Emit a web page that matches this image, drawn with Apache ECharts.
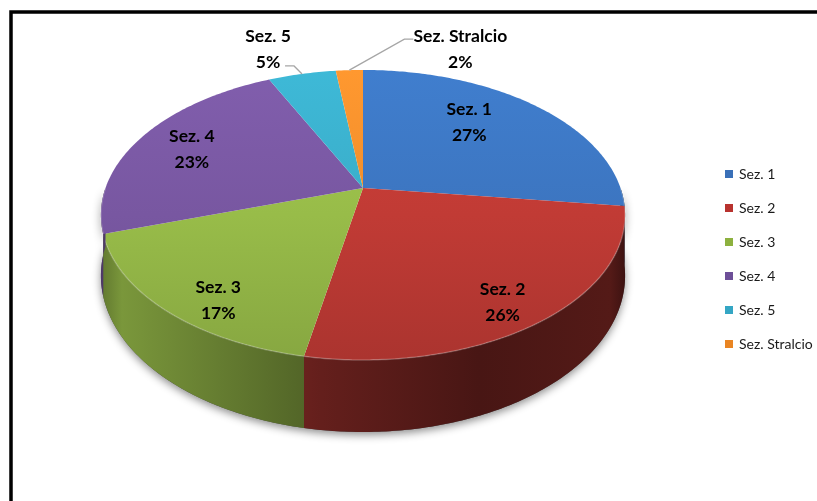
<!DOCTYPE html>
<html>
<head>
<meta charset="utf-8">
<script src="https://cdn.jsdelivr.net/npm/echarts@6/dist/echarts.min.js"></script>
<style>
  html, body { margin: 0; padding: 0; background: #ffffff; }
  #chart { width: 817px; height: 501px; }
</style>
</head>
<body>
<div id="chart"></div>
<script>
// Sections and their shares (percent)
const sections = ['Sez. 1', 'Sez. 2', 'Sez. 3', 'Sez. 4', 'Sez. 5', 'Sez. Stralcio'];
const shares = [27, 26, 17, 23, 5, 2];
const sectionColors = ['#3e79c6', '#c73d37', '#9dc24b', '#7c5aa6', '#3cb2cf', '#f7922d'];
const legendColors = ['#3a70b8', '#b8322e', '#8db13f', '#6d4f98', '#34a6c4', '#e98523'];

// Label placement: inside labels use [reach, lift]; outside labels use a text offset from the rim
const insideLabelLayout = [[0.59, -15], [0.81, 10], [0.76, 23], [0.765, 2]];
const outsideLabelLayout = { 4: { dx: -34, dy: -25, side: 'left' }, 5: { dx: 111, dy: -21, side: 'right' } };

const FONT = "Lato, 'Open Sans', sans-serif";

// Perspective disc: theta in degrees clockwise from the back of the pie
const geo = { cx: 363, cy: 188, R: 257.5, S: 140, k: 0.186, h: 58.6, xL: 101, xR: 626, yT: 70, yB: 360 };

function proj(theta, r, lower) {
  const a = theta * Math.PI / 180;
  const X = r * Math.sin(a), Z = -r * Math.cos(a);
  const w = 1 - geo.k * Z;
  return [geo.cx + geo.R * X / w, geo.cy + (geo.S * Z + (lower ? geo.h : 0)) / w];
}

const total = shares.reduce((s, v) => s + v, 0);
const startAngles = [];
{
  let acc = 0;
  shares.forEach(v => { startAngles.push(acc / total * 360); acc += v; });
}

function shade(hex, f) {
  const n = parseInt(hex.slice(1), 16);
  const c = [(n >> 16) & 255, (n >> 8) & 255, n & 255].map(v => Math.max(0, Math.min(255, Math.round(v * f))));
  return 'rgb(' + c.join(',') + ')';
}

function arc(a0, a1, lower) {
  const pts = [];
  const steps = Math.max(2, Math.ceil(Math.abs(a1 - a0) / 0.75));
  for (let i = 0; i <= steps; i++) pts.push(proj(a0 + (a1 - a0) * i / steps, 1, lower));
  return pts;
}

function topFill(base) {
  return {
    type: 'linear', x: 0, y: geo.yT, x2: 0, y2: geo.yB, global: true,
    colorStops: [
      { offset: 0, color: shade(base, 1.04) },
      { offset: 0.5, color: shade(base, 0.97) },
      { offset: 1, color: shade(base, 0.86) }
    ]
  };
}

function wallFill(base) {
  return {
    type: 'linear', x: geo.xL, y: 0, x2: geo.xR, y2: 0, global: true,
    colorStops: [
      { offset: 0, color: shade(base, 0.62) },
      { offset: 0.04, color: shade(base, 0.78) },
      { offset: 0.42, color: shade(base, 0.5) },
      { offset: 0.72, color: shade(base, 0.36) },
      { offset: 0.97, color: shade(base, 0.42) },
      { offset: 1, color: shade(base, 0.3) }
    ]
  };
}

function sectionRender(idx) {
  return function (params, api) {
    const a0 = startAngles[idx];
    const a1 = a0 + api.value(1) / total * 360;
    const base = sectionColors[idx];
    const children = [];
    // front wall (visible half of the cylinder)
    const w0 = Math.max(a0, 90), w1 = Math.min(a1, 270);
    if (w1 > w0) {
      const pts = arc(w0, w1, false).concat(arc(w1, w0, true));
      children.push({ type: 'polygon', shape: { points: pts }, style: { fill: wallFill(base) } });
    }
    // top face
    const top = [[geo.cx, geo.cy]].concat(arc(a0, a1, false));
    children.push({ type: 'polygon', shape: { points: top }, style: { fill: topFill(base) } });
    // rim highlight on the front edge
    if (w1 > w0) {
      children.push({ type: 'polyline', shape: { points: arc(w0, w1, false) },
        style: { stroke: 'rgba(255,255,255,0.22)', lineWidth: 1.5, fill: null } });
    }
    return { type: 'group', children: children };
  };
}

const series = [];
// soft shadow beneath the front wall
series.push({
  type: 'custom', name: '_shadow', coordinateSystem: 'none', z: 1, silent: true,
  data: [[0, 0]],
  renderItem: function () {
    const pts = arc(90, 270, false).concat(arc(270, 90, true));
    return { type: 'polygon', shape: { points: pts },
      style: { fill: '#4a4a4a', shadowBlur: 8, shadowColor: 'rgba(0,0,0,0.45)', shadowOffsetY: 3 } };
  }
});
sections.forEach((name, i) => {
  series.push({
    type: 'custom', name: name, coordinateSystem: 'none', z: 2, silent: true,
    itemStyle: { color: legendColors[i] },
    data: [[i, shares[i]]],
    renderItem: sectionRender(i)
  });
});
// data labels
series.push({
  type: 'custom', name: '_labels', coordinateSystem: 'none', z: 3, silent: true,
  data: sections.map((s, i) => [i, shares[i]]),
  renderItem: function (params, api) {
    const i = api.value(0);
    const share = api.value(1);
    const mid = startAngles[i] + share / total * 180;
    const txt = sections[i] + '\n' + share + '%';
    const textStyle = { fontFamily: FONT, fontWeight: 'bold', fontSize: 17.5, lineHeight: 26,
      fill: '#000', align: 'center', verticalAlign: 'middle', text: txt };
    if (outsideLabelLayout[i]) {
      const o = outsideLabelLayout[i];
      const rim = proj(mid, 1, false);
      const tx = rim[0] + o.dx, ty = rim[1] + o.dy;
      const lineY = o.side === 'left' ? ty + 17 : ty - 10;
      const lx0 = o.side === 'left' ? tx + 17 : tx - 47;
      const lx1 = o.side === 'left' ? lx0 + 9 : lx0 - 9;
      return { type: 'group', children: [
        { type: 'polyline', shape: { points: [[lx0, lineY], [lx1, lineY], rim] },
          style: { stroke: '#a6a6a6', lineWidth: 1.3, fill: null } },
        { type: 'text', x: tx, y: ty, style: textStyle }
      ] };
    }
    const lay = insideLabelLayout[i];
    const p = proj(mid, lay[0], false);
    return { type: 'text', x: p[0], y: p[1] + lay[1], style: textStyle };
  }
});

const chart = echarts.init(document.getElementById('chart'), null, { renderer: 'canvas' });
chart.setOption({
  animation: false,
  backgroundColor: '#ffffff',
  legend: {
    data: sections,
    orient: 'vertical',
    left: 725,
    top: 167,
    padding: 0,
    icon: 'rect',
    itemWidth: 8,
    itemHeight: 8,
    itemGap: 20,
    selectedMode: false,
    textStyle: { fontFamily: FONT, fontSize: 14, color: '#1a1a1a', padding: [0, 0, 0, 1] }
  },
  graphic: [{
    type: 'rect', silent: true, z: 10,
    shape: { x: 11, y: 12, width: 840, height: 540 },
    style: { fill: null, stroke: '#000', lineWidth: 3.5 }
  }],
  series: series
});
</script>
</body>
</html>
